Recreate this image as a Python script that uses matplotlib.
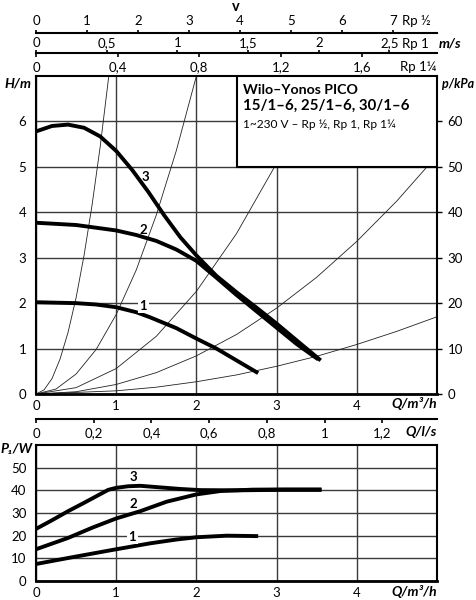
import matplotlib
matplotlib.use("Agg")
import matplotlib.pyplot as plt
from matplotlib.patches import Rectangle

plt.rcParams['font.family'] = ['Lato', 'DejaVu Sans']

# pump curves H(Q)
q_c1 = [0, 0.25, 0.5, 0.75, 1.0, 1.25, 1.42, 1.75, 2.0, 2.25, 2.5, 2.77]
h_c1 = [2.02, 2.01, 2.00, 1.97, 1.91, 1.80, 1.69, 1.45, 1.22, 1.00, 0.74, 0.46]
q_c2 = [0, 0.5, 1.0, 1.25, 1.5, 1.75, 2.0, 2.25, 2.5, 2.75, 3.0, 3.25, 3.52]
h_c2 = [3.77, 3.72, 3.60, 3.50, 3.37, 3.18, 2.93, 2.56, 2.18, 1.82, 1.46, 1.10, 0.76]
q_c3 = [0, 0.2, 0.4, 0.6, 0.8, 1.0, 1.2, 1.4, 1.6, 1.8, 2.0, 2.25, 2.5, 2.75, 3.0, 3.25, 3.55]
h_c3 = [5.78, 5.90, 5.93, 5.86, 5.67, 5.35, 4.93, 4.45, 3.93, 3.45, 3.05, 2.60, 2.24, 1.90, 1.55, 1.18, 0.74]

# thin system curves
q_sa = [0, 0.1, 0.2, 0.3, 0.4, 0.5, 0.6, 0.7, 0.8, 0.9, 0.95]
h_sa = [0, 0.09, 0.34, 0.77, 1.36, 2.12, 3.06, 4.17, 5.44, 6.89, 7.6]
q_sb = [0, 0.25, 0.5, 0.75, 1.0, 1.25, 1.5, 1.75, 2.0, 2.1]
h_sb = [0, 0.11, 0.44, 0.98, 1.75, 2.73, 3.94, 5.36, 7.0, 7.7]
q_sc = [0, 0.5, 1.0, 1.5, 2.0, 2.5, 3.0, 3.5]
h_sc = [0, 0.14, 0.56, 1.27, 2.26, 3.53, 5.08, 6.9]
q_sd = [0, 0.5, 1, 1.5, 2, 2.5, 3, 3.5, 4, 4.5, 5]
h_sd = [0, 0.05, 0.21, 0.47, 0.84, 1.31, 1.89, 2.57, 3.36, 4.25, 5.25]
q_se = [0, 1, 1.5, 2, 2.5, 3, 3.5, 4, 4.5, 5]
h_se = [0, 0.07, 0.15, 0.27, 0.42, 0.61, 0.83, 1.09, 1.38, 1.70]

# power input P1(Q)
p_q1 = [0, 0.5, 1.0, 1.42, 1.75, 2.0, 2.38, 2.77]
p_w1 = [7.5, 10.8, 14.0, 16.6, 18.3, 19.3, 20.0, 19.8]
p_q2 = [0, 0.4, 0.7, 1.0, 1.3, 1.63, 2.0, 2.3, 2.7, 3.1, 3.56]
p_w2 = [14.0, 19.0, 23.5, 27.6, 30.8, 35.0, 38.2, 39.7, 40.3, 40.4, 40.4]
p_q3 = [0, 0.2, 0.4, 0.6, 0.8, 0.9, 1.0, 1.15, 1.3, 1.55, 1.8, 2.05, 2.5, 3.0, 3.56]
p_w3 = [23.0, 26.8, 30.8, 34.5, 38.3, 40.2, 41.1, 41.8, 42.0, 41.3, 40.6, 40.1, 40.0, 40.2, 40.2]

# velocity scales (m/s) and flow in l/s
v_rp12 = [0, 1, 2, 3, 4, 5, 6, 7]
v_rp1 = [0, 0.5, 1.0, 1.5, 2.0, 2.5]
v_rp114 = [0, 0.4, 0.8, 1.2, 1.6]
q_ls = [0, 0.2, 0.4, 0.6, 0.8, 1.0, 1.2]
# m3/h per 1 m/s for each pipe size
k_rp12, k_rp1, k_rp114 = 0.6357, 1.763, 2.543

W, H = 476, 600
def fx(x):
    return x / W
def fy(y):
    return 1 - y / H

def lbl(v):
    s = ('%g' % v) if v == int(v) else ('%.1f' % v)
    return s.replace('.', ',')

fig = plt.figure(figsize=(4.76, 6.0), dpi=100)
fs = 9.5
grid_kw = dict(color='#3a3a3a', lw=1.0)
thick = dict(color='black', lw=2.8, solid_capstyle='butt', solid_joinstyle='round', zorder=4)

# ---- main H(Q) chart
ax = fig.add_axes([fx(36), fy(394), fx(401), 318 / H])
ax.set_xlim(0, 5)
ax.set_ylim(0, 7)
ax.set_xticks([0, 1, 2, 3, 4])
ax.set_xticklabels(['0', '1', '2', '3', '4'])
ax.set_yticks([0, 1, 2, 3, 4, 5, 6])
ax.tick_params(length=0, labelsize=fs)
ax.tick_params(axis='y', pad=7)
ax.tick_params(axis='x', pad=4)
ax.grid(True, **grid_kw)
ax.set_axisbelow(True)
for s in ax.spines.values():
    s.set_linewidth(1.5)
ax.spines['bottom'].set_linewidth(2.0)

for q, h in [(q_sa, h_sa), (q_sb, h_sb), (q_sc, h_sc), (q_sd, h_sd), (q_se, h_se)]:
    ax.plot(q, h, color='#222222', lw=0.6, zorder=2)

ax.add_patch(Rectangle((0.5, 5 / 7), 0.5, 2 / 7, transform=ax.transAxes,
                       facecolor='white', edgecolor='black', lw=1.5, zorder=3))

for q, h in [(q_c1, h_c1), (q_c2, h_c2), (q_c3, h_c3)]:
    ax.plot(q, h, **thick)

box = dict(facecolor='white', edgecolor='none', pad=1.0)
ax.text(1.36, 4.77, '3', fontsize=fs, fontweight='bold', ha='center', va='center', zorder=5)
ax.text(1.34, 3.62, '2', fontsize=fs, fontweight='bold', ha='center', va='center', zorder=5)
ax.text(1.34, 1.94, '1', fontsize=fs, fontweight='bold', ha='center', va='center', bbox=box, zorder=5)

axr = ax.twinx()
axr.set_ylim(0, 70)
axr.set_yticks([0, 10, 20, 30, 40, 50, 60])
axr.tick_params(direction='out', length=3.5, width=1.0, labelsize=fs, pad=4)
for s in axr.spines.values():
    s.set_visible(False)

fig.text(fx(243), fy(90.5), 'Wilo–Yonos PICO', fontsize=10.2, fontweight='bold', va='center')
fig.text(fx(243), fy(105.5), '15/1–6, 25/1–6, 30/1–6', fontsize=10.8, fontweight='bold', va='center')
fig.text(fx(243), fy(124), '1~230 V – Rp ½, Rp 1, Rp 1¼', fontsize=8.6, va='center')

ti = dict(fontsize=10, fontweight='bold', fontstyle='italic', va='center')
fig.text(fx(4), fy(84), 'H/m', ha='left', **ti)
fig.text(fx(474), fy(84), 'p/kPa', ha='right', fontsize=9, fontweight='bold',
         fontstyle='italic', va='center')
fig.text(fx(437), fy(404), 'Q/m³/h', ha='right', **ti)

# ---- velocity scales on top
def scale_ax(y_px):
    a = fig.add_axes([fx(36), fy(y_px), fx(401), 0.0001])
    a.set_xlim(0, 5)
    a.patch.set_visible(False)
    a.yaxis.set_visible(False)
    for s in a.spines.values():
        s.set_visible(False)
    return a

a1 = scale_ax(32.7)
a1.spines['top'].set_visible(True)
a1.spines['top'].set_linewidth(1.5)
a1.xaxis.tick_top()
a1.set_xticks([v * k_rp12 for v in v_rp12])
a1.set_xticklabels([lbl(v) for v in v_rp12])
a1.tick_params(direction='out', length=2.5, width=1.2, labelsize=fs, pad=1.5)

a2 = scale_ax(53.3)
a2.spines['top'].set_visible(True)
a2.spines['top'].set_linewidth(1.5)
a2.xaxis.tick_top()
a2.set_xticks([v * k_rp1 for v in v_rp1])
a2.set_xticklabels([lbl(v) for v in v_rp1])
a2.tick_params(direction='out', length=2.5, width=1.2, labelsize=fs, pad=0.5)

a3 = scale_ax(53.3)
a3.set_xticks([v * k_rp114 for v in v_rp114])
a3.set_xticklabels([lbl(v) for v in v_rp114])
a3.tick_params(direction='out', length=3, width=1.2, labelsize=fs, pad=3)

fig.text(fx(236), fy(7), 'v', fontsize=10.5, fontweight='bold', ha='center', va='center')
fig.text(fx(402), fy(21), 'Rp ½', fontsize=fs, ha='left', va='center')
fig.text(fx(402), fy(44), 'Rp 1', fontsize=fs, ha='left', va='center')
fig.text(fx(439), fy(44), 'm/s', ha='left', **ti)
fig.text(fx(436), fy(67), 'Rp 1¼', fontsize=fs, ha='right', va='center')

# ---- Q in l/s
a4 = scale_ax(419.3)
a4.spines['bottom'].set_visible(True)
a4.spines['bottom'].set_linewidth(1.5)
a4.set_xticks([q * 3.6 for q in q_ls])
a4.set_xticklabels([lbl(q) for q in q_ls])
a4.tick_params(direction='out', length=3, width=1.2, labelsize=fs, pad=3)
fig.text(fx(437), fy(432), 'Q/l/s', ha='right', **ti)

# ---- power chart
axp = fig.add_axes([fx(36), fy(581), fx(401), 136 / H])
axp.set_xlim(0, 5)
axp.set_ylim(0, 60)
axp.set_xticks([0, 1, 2, 3, 4])
axp.set_yticks([0, 10, 20, 30, 40, 50])
axp.tick_params(length=0, labelsize=fs)
axp.tick_params(axis='y', pad=7)
axp.tick_params(axis='x', pad=4)
axp.grid(True, **grid_kw)
axp.set_axisbelow(True)
for s in axp.spines.values():
    s.set_linewidth(1.5)
axp.spines['bottom'].set_linewidth(2.0)

for q, p in [(p_q1, p_w1), (p_q2, p_w2), (p_q3, p_w3)]:
    axp.plot(q, p, **thick)

axp.text(1.21, 46.0, '3', fontsize=fs, fontweight='bold', ha='center', va='center', zorder=5)
axp.text(1.21, 34.0, '2', fontsize=fs, fontweight='bold', ha='center', va='center', zorder=5)
axp.text(1.20, 19.4, '1', fontsize=fs, fontweight='bold', ha='center', va='center', bbox=box, zorder=5)

fig.text(fx(0), fy(449), 'P₁/W', ha='left', **ti)
fig.text(fx(437), fy(591), 'Q/m³/h', ha='right', **ti)

fig.savefig('out.png', dpi=100)
